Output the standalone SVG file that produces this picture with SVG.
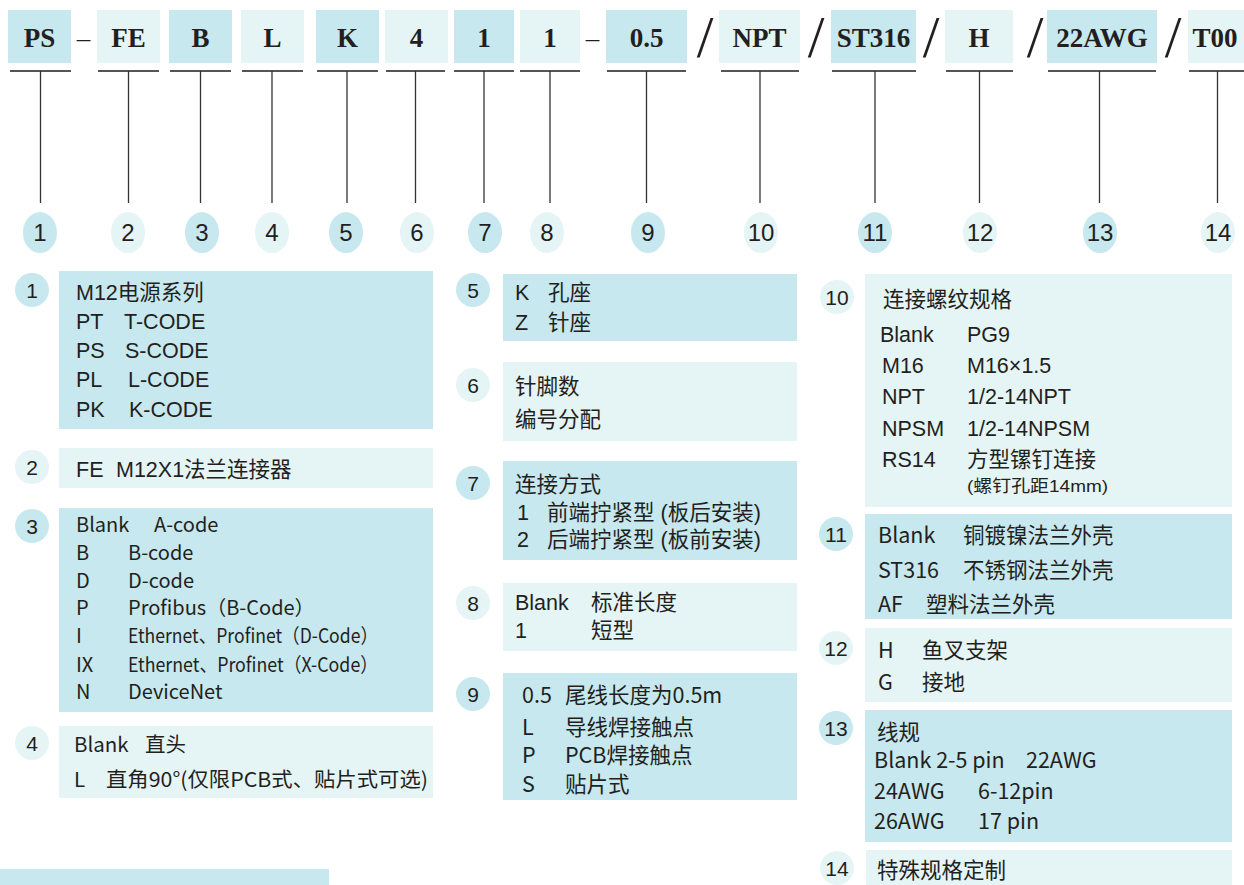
<svg xmlns="http://www.w3.org/2000/svg" width="1244" height="885" viewBox="0 0 1244 885">
<style>
.d{fill:#c7e8ee}
.l{fill:#e5f4f5}
.code{font-family:"Liberation Serif","Times New Roman",serif;font-weight:bold;font-size:27px;fill:#231f20;text-anchor:middle}
.sep{font-family:"Liberation Serif","Times New Roman",serif;font-size:27px;fill:#231f20;text-anchor:middle}
.sl{font-family:"Liberation Serif","Times New Roman",serif;font-size:60px;fill:#231f20;text-anchor:middle}
.hn{font-family:"Liberation Sans",Arial,sans-serif;font-size:24px;fill:#231f20;text-anchor:middle}
.bn{font-family:"Liberation Sans",Arial,sans-serif;font-size:21px;fill:#231f20;text-anchor:middle}
.t{font-family:"Liberation Sans","Noto Sans CJK SC",sans-serif;font-size:21.5px;fill:#231f20}
.y{font-family:"Noto Sans CJK SC",sans-serif;font-size:21.5px;fill:#231f20}
.s3{font-family:"Noto Sans CJK SC",sans-serif;font-size:20px;fill:#231f20}
.sm{font-family:"Liberation Sans","Noto Sans CJK SC",sans-serif;font-size:17px;fill:#231f20}
.ul{stroke:#555;stroke-width:2;fill:none}
.st{stroke:#333;stroke-width:1.3;fill:none}
</style>

<g id="header">
  <rect class="d" x="8" y="10" width="63" height="53"/><text class="code" x="39.5" y="47">PS</text>
  <text class="sep" x="83.5" y="47">–</text>
  <rect class="l" x="97" y="10" width="63" height="53"/><text class="code" x="128.5" y="47">FE</text>
  <rect class="d" x="169" y="10" width="63" height="53"/><text class="code" x="200.5" y="47">B</text>
  <rect class="l" x="241" y="10" width="63" height="53"/><text class="code" x="272.5" y="47">L</text>
  <rect class="d" x="316" y="10" width="63" height="53"/><text class="code" x="347.5" y="47">K</text>
  <rect class="l" x="385" y="10" width="63" height="53"/><text class="code" x="416.5" y="47">4</text>
  <rect class="d" x="454" y="10" width="60" height="53"/><text class="code" x="484" y="47">1</text>
  <rect class="l" x="520" y="10" width="60" height="53"/><text class="code" x="550" y="47">1</text>
  <text class="sep" x="592.5" y="47">–</text>
  <rect class="d" x="606" y="10" width="81" height="53"/><text class="code" x="646.5" y="47">0.5</text>
  <text class="sl" x="705" y="57">/</text>
  <rect class="l" x="719" y="10" width="81" height="53"/><text class="code" x="759.5" y="47">NPT</text>
  <text class="sl" x="816" y="57">/</text>
  <rect class="d" x="831" y="10" width="85" height="53"/><text class="code" x="873.5" y="47">ST316</text>
  <text class="sl" x="931" y="57">/</text>
  <rect class="l" x="945" y="10" width="68" height="53"/><text class="code" x="979" y="47">H</text>
  <text class="sl" x="1035" y="57">/</text>
  <rect class="d" x="1047" y="10" width="110" height="53"/><text class="code" x="1102" y="47">22AWG</text>
  <text class="sl" x="1173" y="57">/</text>
  <rect class="l" x="1188" y="10" width="56" height="53"/><text class="code" x="1215" y="47">T00</text>
</g>

<g id="connectors">
  <path class="ul" d="M10 71H71M98 71H159M170 71H231M242 71H303M317 71H378M386 71H445M454 71H514M520 71H580M607 71H686M721 71H799M832 71H916M946 71H1013M1048 71H1156M1189 71H1244"/>
  <path class="st" d="M40.5 71V203M128.5 71V203M200.5 71V203M272 71V203M347 71V203M415.5 71V203M484 71V203M550 71V203M646.5 71V203M760 71V203M875 71V203M979.5 71V203M1099.5 71V203M1217.5 71V203"/>
</g>

<g id="index-row">
  <ellipse class="d" cx="40" cy="232.6" rx="17" ry="20.5"/><text class="hn" x="40" y="241">1</text>
  <ellipse class="l" cx="128" cy="232.6" rx="17" ry="20.5"/><text class="hn" x="128" y="241">2</text>
  <ellipse class="d" cx="202" cy="232.6" rx="17" ry="20.5"/><text class="hn" x="202" y="241">3</text>
  <ellipse class="l" cx="272" cy="232.6" rx="17" ry="20.5"/><text class="hn" x="272" y="241">4</text>
  <ellipse class="d" cx="346" cy="232.6" rx="17" ry="20.5"/><text class="hn" x="346" y="241">5</text>
  <ellipse class="l" cx="417" cy="232.6" rx="17" ry="20.5"/><text class="hn" x="417" y="241">6</text>
  <ellipse class="d" cx="485" cy="232.6" rx="17" ry="20.5"/><text class="hn" x="485" y="241">7</text>
  <ellipse class="l" cx="547" cy="232.6" rx="17" ry="20.5"/><text class="hn" x="547" y="241">8</text>
  <ellipse class="d" cx="648" cy="232.6" rx="17" ry="20.5"/><text class="hn" x="648" y="241">9</text>
  <ellipse class="l" cx="761" cy="232.6" rx="17" ry="20.5"/><text class="hn" x="761" y="241">10</text>
  <ellipse class="d" cx="875" cy="232.6" rx="17" ry="20.5"/><text class="hn" x="875" y="241">11</text>
  <ellipse class="l" cx="980" cy="232.6" rx="17" ry="20.5"/><text class="hn" x="980" y="241">12</text>
  <ellipse class="d" cx="1100" cy="232.6" rx="17" ry="20.5"/><text class="hn" x="1100" y="241">13</text>
  <ellipse class="l" cx="1218" cy="232.6" rx="17" ry="20.5"/><text class="hn" x="1218" y="241">14</text>
</g>

<g id="item1">
  <circle class="d" cx="32" cy="290" r="17"/><text class="bn" x="32" y="297.5">1</text>
  <rect class="d" x="59" y="271" width="374" height="158"/>
  <text class="t" x="76" y="300">M12电源系列</text>
  <text class="t" x="76" y="329">PT</text><text class="t" x="124" y="329">T-CODE</text>
  <text class="t" x="76" y="358">PS</text><text class="t" x="125" y="358">S-CODE</text>
  <text class="t" x="76" y="387">PL</text><text class="t" x="128" y="387">L-CODE</text>
  <text class="t" x="76" y="417">PK</text><text class="t" x="129" y="417">K-CODE</text>
</g>

<g id="item2">
  <circle class="l" cx="32" cy="467" r="17"/><text class="bn" x="32" y="474.5">2</text>
  <rect class="l" x="59" y="448" width="374" height="40"/>
  <text class="t" x="76" y="477">FE</text><text class="t" x="116" y="477">M12X1法兰连接器</text>
</g>

<g id="item3">
  <circle class="d" cx="32" cy="526" r="17"/><text class="bn" x="32" y="533.5">3</text>
  <rect class="d" x="59" y="508" width="374" height="204"/>
  <text class="s3" x="76" y="532">Blank</text><text class="s3" x="154" y="532">A-code</text>
  <text class="s3" x="76" y="560">B</text><text class="s3" x="128" y="560">B-code</text>
  <text class="s3" x="76" y="588">D</text><text class="s3" x="128" y="588">D-code</text>
  <text class="s3" x="76" y="615">P</text><text class="s3" x="128" y="615">Profibus（B-Code）</text>
  <text class="s3" x="76" y="643">I</text><text class="s3" x="128" y="643" textLength="250" lengthAdjust="spacingAndGlyphs">Ethernet、Profinet（D-Code）</text>
  <text class="s3" x="76" y="672">IX</text><text class="s3" x="128" y="672" textLength="250" lengthAdjust="spacingAndGlyphs">Ethernet、Profinet（X-Code）</text>
  <text class="s3" x="76" y="699">N</text><text class="s3" x="128" y="699">DeviceNet</text>
</g>

<g id="item4">
  <circle class="l" cx="32" cy="743" r="17"/><text class="bn" x="32" y="750.5">4</text>
  <rect class="l" x="59" y="726" width="374" height="72"/>
  <text class="y" x="74" y="752" style="font-size:20.5px">Blank</text><text class="y" x="145" y="752" style="font-size:20.5px">直头</text>
  <text class="y" x="74" y="787" style="font-size:20.5px">L</text><text class="y" x="106" y="787" style="font-size:20.5px" textLength="322" lengthAdjust="spacingAndGlyphs">直角90°(仅限PCB式、贴片式可选)</text>
</g>

<g id="item5">
  <circle class="d" cx="473" cy="290" r="17"/><text class="bn" x="473" y="297.5">5</text>
  <rect class="d" x="503" y="274" width="294" height="67"/>
  <text class="t" x="515" y="300">K</text><text class="t" x="548" y="300">孔座</text>
  <text class="t" x="515" y="330">Z</text><text class="t" x="548" y="330">针座</text>
</g>

<g id="item6">
  <circle class="l" cx="473" cy="385" r="17"/><text class="bn" x="473" y="392.5">6</text>
  <rect class="l" x="503" y="362" width="294" height="79"/>
  <text class="t" x="515" y="394">针脚数</text>
  <text class="t" x="515" y="427">编号分配</text>
</g>

<g id="item7">
  <circle class="d" cx="473" cy="483" r="17"/><text class="bn" x="473" y="490.5">7</text>
  <rect class="d" x="503" y="461" width="294" height="99"/>
  <text class="t" x="515" y="492">连接方式</text>
  <text class="t" x="517" y="520">1</text><text class="t" x="547" y="520">前端拧紧型 (板后安装)</text>
  <text class="t" x="517" y="547">2</text><text class="t" x="547" y="547">后端拧紧型 (板前安装)</text>
</g>

<g id="item8">
  <circle class="l" cx="473" cy="603" r="17"/><text class="bn" x="473" y="610.5">8</text>
  <rect class="l" x="503" y="583" width="294" height="68"/>
  <text class="t" x="515" y="610">Blank</text><text class="t" x="591" y="610">标准长度</text>
  <text class="t" x="515" y="638">1</text><text class="t" x="591" y="638">短型</text>
</g>

<g id="item9">
  <circle class="d" cx="473" cy="694" r="17"/><text class="bn" x="473" y="701.5">9</text>
  <rect class="d" x="503" y="673" width="294" height="127"/>
  <text class="y" x="522" y="703">0.5</text><text class="y" x="565" y="703">尾线长度为0.5m</text>
  <text class="y" x="522" y="735">L</text><text class="y" x="565" y="735">导线焊接触点</text>
  <text class="y" x="522" y="763">P</text><text class="y" x="565" y="763">PCB焊接触点</text>
  <text class="y" x="522" y="792">S</text><text class="y" x="565" y="792">贴片式</text>
</g>

<g id="item10">
  <circle class="l" cx="837" cy="297" r="17"/><text class="bn" x="837" y="304.5">10</text>
  <rect class="l" x="865" y="274" width="367" height="233"/>
  <text class="t" x="883" y="307">连接螺纹规格</text>
  <text class="t" x="880" y="342">Blank</text><text class="t" x="967" y="342">PG9</text>
  <text class="t" x="882" y="373">M16</text><text class="t" x="967" y="373">M16×1.5</text>
  <text class="t" x="882" y="404">NPT</text><text class="t" x="967" y="404">1/2-14NPT</text>
  <text class="t" x="882" y="436">NPSM</text><text class="t" x="967" y="436">1/2-14NPSM</text>
  <text class="t" x="882" y="467">RS14</text><text class="t" x="967" y="467">方型镙钉连接</text>
  <text class="sm" x="967" y="492" textLength="141" lengthAdjust="spacingAndGlyphs">(螺钉孔距14mm)</text>
</g>

<g id="item11">
  <circle class="d" cx="836" cy="534" r="17"/><text class="bn" x="836" y="541.5">11</text>
  <rect class="d" x="865" y="514" width="367" height="105"/>
  <text class="y" x="878" y="543">Blank</text><text class="y" x="963" y="543">铜镀镍法兰外壳</text>
  <text class="y" x="878" y="578">ST316</text><text class="y" x="963" y="578">不锈钢法兰外壳</text>
  <text class="y" x="878" y="612">AF</text><text class="y" x="926" y="612">塑料法兰外壳</text>
</g>

<g id="item12">
  <circle class="l" cx="836" cy="648" r="17"/><text class="bn" x="836" y="655.5">12</text>
  <rect class="l" x="865" y="628" width="367" height="74"/>
  <text class="y" x="878" y="658">H</text><text class="y" x="922" y="658">鱼叉支架</text>
  <text class="y" x="878" y="690">G</text><text class="y" x="922" y="690">接地</text>
</g>

<g id="item13">
  <circle class="d" cx="836" cy="728" r="17"/><text class="bn" x="836" y="735.5">13</text>
  <rect class="d" x="865" y="710" width="367" height="132"/>
  <text class="y" x="877" y="740">线规</text>
  <text class="y" x="874" y="768">Blank 2-5 pin</text><text class="y" x="1026" y="768">22AWG</text>
  <text class="y" x="874" y="799">24AWG</text><text class="y" x="978" y="799">6-12pin</text>
  <text class="y" x="874" y="829">26AWG</text><text class="y" x="978" y="829">17 pin</text>
</g>

<g id="item14">
  <circle class="l" cx="837" cy="868" r="17"/><text class="bn" x="837" y="875.5">14</text>
  <rect class="l" x="866" y="850" width="366" height="35"/>
  <text class="y" x="877" y="878">特殊规格定制</text>
</g>

<g id="footer-box">
  <rect class="d" x="0" y="869" width="329" height="16"/>
</g>
</svg>
